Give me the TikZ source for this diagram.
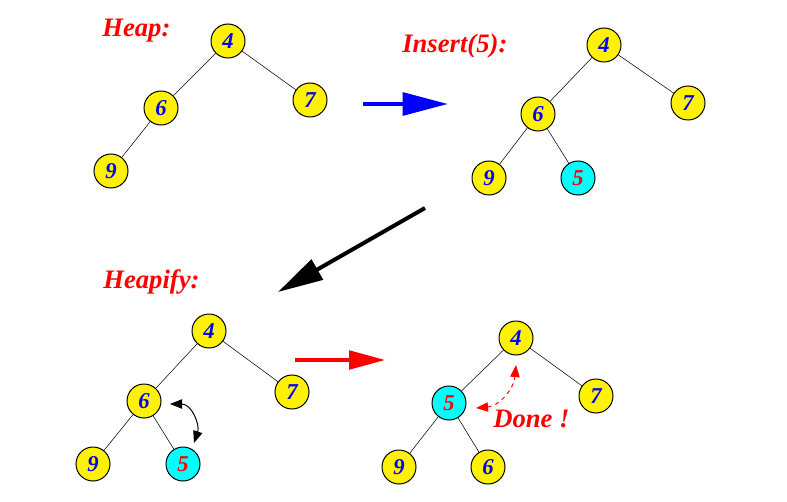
\documentclass[tikz,border=0pt]{standalone}
\usepackage{fontspec}
\setmainfont{Liberation Serif}
\usetikzlibrary{arrows.meta,positioning}
\definecolor{aqua}{RGB}{0,255,255}

\begin{document}
\begin{tikzpicture}[x=0.75pt,y=-0.75pt,
  vtx/.style={shape=circle, draw=black, fill=yellow, text=blue, minimum size=25.5pt, inner sep=0pt, line width=0.75pt, font=\fontsize{17}{17}\selectfont\bfseries\itshape},
  hot/.style={vtx, fill=aqua, text=red},
  lbl/.style={anchor=base west, text=red, inner sep=0pt, font=\fontsize{20}{20}\selectfont\bfseries\itshape},
  big/.style={line width=3pt, -{Triangle[length=34pt,width=17pt]}},
  swap/.style={line width=0.75pt, {Triangle[length=9pt,width=7pt]}-{Triangle[length=9pt,width=7pt]}}]
\useasboundingbox (0,0) rectangle (787,502);

% Nhãn
\node[lbl] (lheap) at (102,37) {Heap:};
\node[lbl] (lins) at (402,53) {Insert(5):};
\node[lbl] (lfix) at (103,288) {Heapify:};
\node[lbl] (ldone) at (493,427) {Done !};

% Cây 1
\node[vtx] (a4) at (228,41) {4};
\node[vtx] (a6) at (161,108) {6};
\node[vtx] (a7) at (310,100) {7};
\node[vtx] (a9) at (111,171) {9};

% Cây 2
\node[vtx] (b4) at (604,45) {4};
\node[vtx] (b6) at (538,114) {6};
\node[vtx] (b7) at (688,103) {7};
\node[vtx] (b9) at (489,178) {9};
\node[hot] (b5) at (578,178) {5};

% Cây 3
\node[vtx] (c4) at (209,331) {4};
\node[vtx] (c6) at (144,401) {6};
\node[vtx] (c7) at (292,392) {7};
\node[vtx] (c9) at (93,464) {9};
\node[hot] (c5) at (183,464) {5};

% Cây 4
\node[vtx] (d4) at (516,338) {4};
\node[hot] (d5) at (449,403) {5};
\node[vtx] (d7) at (596,396) {7};
\node[vtx] (d9) at (399,467) {9};
\node[vtx] (d6) at (488,467) {6};

% Cạnh
\draw (a4) -- (a6);
\draw (a4) -- (a7);
\draw (a6) -- (a9);
\draw (b4) -- (b6);
\draw (b4) -- (b7);
\draw (b6) -- (b9);
\draw (b6) -- (b5);
\draw (c4) -- (c6);
\draw (c4) -- (c7);
\draw (c6) -- (c9);
\draw (c6) -- (c5);
\draw (d4) -- (d5);
\draw (d4) -- (d7);
\draw (d5) -- (d9);
\draw (d5) -- (d6);

% Mũi tên lớn
\coordinate (p1) at (363,104);
\coordinate (p2) at (448,104);
\coordinate (q1) at (425,208);
\coordinate (q2) at (278,292);
\coordinate (r1) at (295,360);
\coordinate (r2) at (385,360);
\draw[big, blue] (p1) -- (p2);
\draw[big, black] (q1) -- (q2);
\draw[red, line width=2.5pt, -{Triangle[length=27pt,width=14pt]}] (r1) -- (r2);

% Hoán đổi
\coordinate (s1) at (170,404);
\coordinate (s2) at (194,443);
\draw[swap] (s1) .. controls (192,404) and (200,425) .. (s2);
\coordinate (t1) at (476,408);
\coordinate (t2) at (516,365);
\draw[swap, red, dashed] (t1) .. controls (500,406) and (514,388) .. (t2);
\end{tikzpicture}
\end{document}
